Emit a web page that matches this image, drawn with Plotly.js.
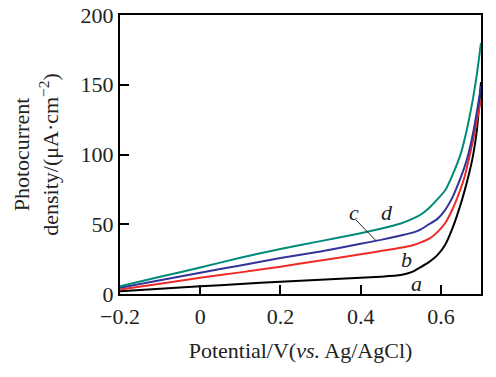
<!DOCTYPE html>
<html>
<head>
<meta charset="utf-8">
<script src="https://cdn.plot.ly/plotly-3.0.1.min.js"></script>
<style>html,body{margin:0;padding:0;background:#fff;}#chart{width:496px;height:377px;}</style>
</head>
<body>
<div id="chart"></div>
<script>
var potential = [-0.2, -0.1, 0, 0.1, 0.2, 0.3, 0.4, 0.45, 0.5, 0.53, 0.55, 0.57, 0.59, 0.61, 0.63, 0.65, 0.66, 0.67, 0.68, 0.69, 0.70];
var seriesA = [2, 3.8, 5.5, 7.2, 8.8, 10.3, 11.6, 12.4, 13.6, 16, 19.3, 22.8, 27.5, 35, 48, 65, 75, 86, 99, 118, 152];
var seriesB = [3.2, 7.4, 11.6, 15.5, 19.6, 24, 28.5, 30.8, 33.2, 35, 37, 39.5, 44, 50.5, 61.5, 76, 85, 97, 110, 125, 139];
var seriesC = [4.4, 9.8, 15.2, 20.5, 25.8, 30.5, 36, 38.8, 42, 44, 46.3, 50, 53.5, 60, 70, 84, 92, 102, 115, 131, 149];
var seriesD = [5.6, 12.3, 19, 26, 32.3, 37.9, 43.6, 46.8, 50.5, 54, 57, 61.5, 67.5, 74, 86, 101, 112, 125, 140, 158, 180];
var seriesNames = ['a', 'b', 'c', 'd'];
var seriesColors = ['#000000', '#ee2a24', '#33339a', '#008a78'];
var xTicks = [-0.2, 0, 0.2, 0.4, 0.6];
var yTicks = [0, 50, 100, 150, 200];
var labelX = [0.539, 0.515, 0.383, 0.465];
var labelY = [7.3, 24.5, 58.5, 58.5];
var leaderX = [0.3875, 0.437];
var leaderY = [53.3, 38.6];

var all = [seriesA, seriesB, seriesC, seriesD];
var traces = all.map(function (ys, i) {
  return {x: potential, y: ys, type: 'scatter', mode: 'lines', name: seriesNames[i],
    line: {color: seriesColors[i], width: 2, shape: 'spline', smoothing: 0.5}, hoverinfo: 'skip'};
});

var annotations = seriesNames.map(function (n, i) {
  return {x: labelX[i], y: labelY[i], xref: 'x', yref: 'y', text: '<i>' + n + '</i>', showarrow: false,
    font: {family: 'Liberation Serif, serif', size: 22, color: '#222'}};
});

var font = {family: 'Liberation Serif, Times New Roman, serif', size: 22, color: '#222'};
var layout = {
  width: 496, height: 377,
  margin: {l: 120, r: 14.5, t: 15, b: 82.5},
  paper_bgcolor: '#fff', plot_bgcolor: '#fff',
  showlegend: false,
  font: font,
  xaxis: {range: [-0.2, 0.7], tickvals: xTicks, ticktext: xTicks.map(function (v) { return v === 0 ? '0' : (v < 0 ? '\u2212' + Math.abs(v).toFixed(1) : v.toFixed(1)); }),
    ticks: 'inside', ticklen: 9, tickwidth: 2, tickcolor: '#000', showline: true, linecolor: '#000', linewidth: 2,
    mirror: true, showgrid: false, zeroline: false, tickfont: font, ticklabelstandoff: 2,
    title: {text: 'Potential/V(<i>vs.</i> Ag/AgCl)', font: font, standoff: 14}},
  yaxis: {range: [0, 200], tickvals: yTicks, ticks: 'inside', ticklen: 9, tickwidth: 2, tickcolor: '#000',
    showline: true, linecolor: '#000', linewidth: 2, mirror: true, showgrid: false, zeroline: false, tickfont: font,
    ticklabelstandoff: 0,
    title: {text: 'Photocurrent<br>density/(\u03bcA\u00b7cm<sup>\u22122</sup>)', font: font, standoff: 16}},
  annotations: annotations,
  shapes: [{type: 'line', xref: 'x', yref: 'y', x0: leaderX[0], y0: leaderY[0], x1: leaderX[1], y1: leaderY[1],
    line: {color: '#222', width: 1}}]
};
Plotly.newPlot('chart', traces, layout, {staticPlot: true, displayModeBar: false});
</script>
</body>
</html>
